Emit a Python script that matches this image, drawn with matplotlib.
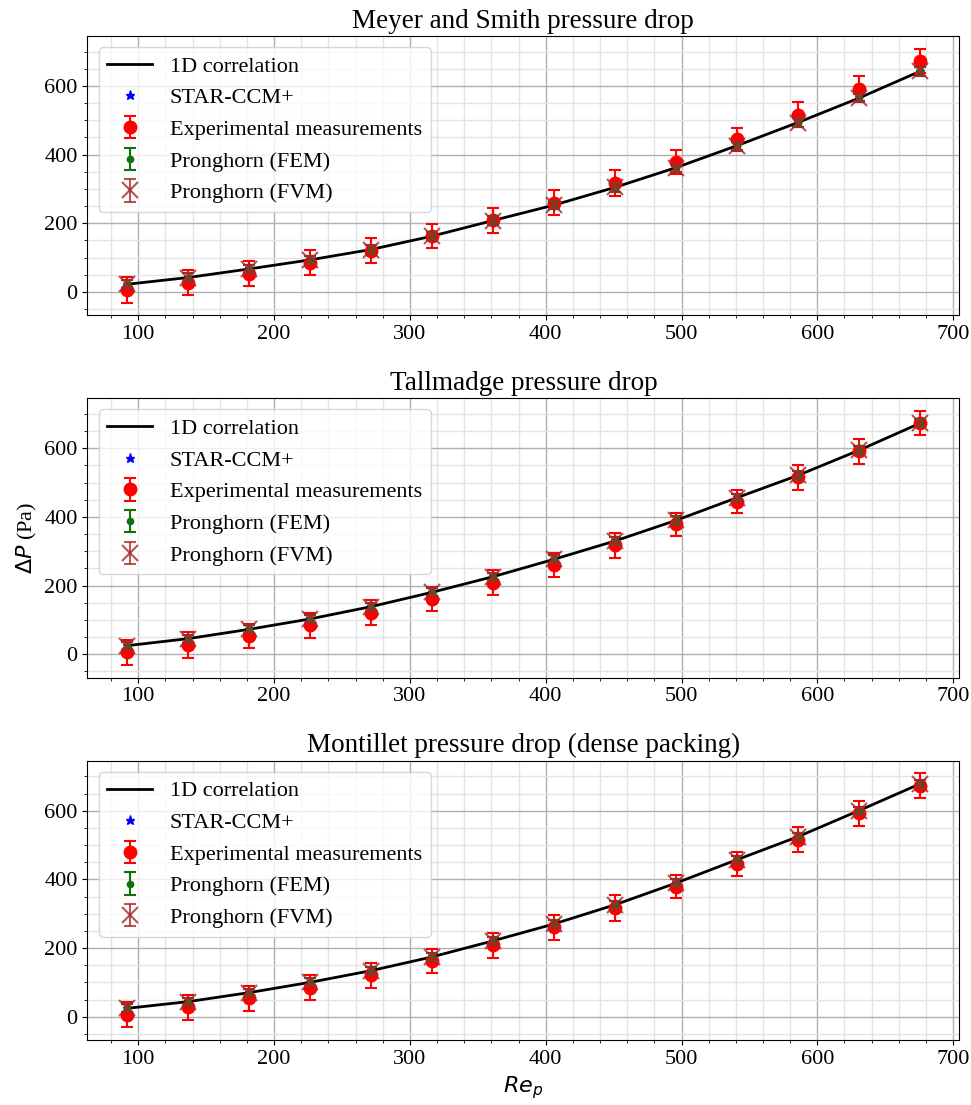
import numpy as np
import matplotlib.pyplot as plt
from matplotlib.ticker import AutoMinorLocator

plt.rcParams['font.family'] = ['Liberation Serif', 'DejaVu Sans']
plt.rcParams['mathtext.fontset'] = 'dejavusans'

# particle Reynolds numbers of the test points
re_p = [91.7, 136.6, 181.5, 226.4, 271.3, 316.2, 361.1,
        406.0, 450.9, 495.8, 540.7, 585.6, 630.5, 675.4]

# experimental pressure drop (Pa) and its uncertainty
exp_dp = [6, 27, 53.5, 84.6, 120.7, 162, 208.5, 260, 317, 379, 445, 516, 592, 673]
exp_err = [37, 37, 36, 36.5, 36.5, 35, 36.5, 36, 37, 34, 34, 36.5, 36.5, 35.5]

# 1D correlation / simulations, one list per correlation
corr_meyer = [22.4, 42, 67, 93.4, 123.6, 162.5, 208, 253, 304.6, 362, 426, 493.4, 564.5, 642.3]
corr_tallmadge = [25.2, 45.6, 72.8, 103, 138.8, 180.6, 226, 276.7, 330, 390, 456, 521, 594, 672.8]
corr_montillet = [24.3, 43.8, 70, 100, 134, 174, 220.8, 270, 325.8, 389, 457, 524, 600, 677.8]

star_offset = [2, 2, 2, 2, 2, 2, 2, 2, 2, 2, 2, 2, 2, 2]
sim_err = [12, 12, 12, 12, 12, 12, 12, 12, 12, 12, 12, 12, 12, 12]

titles = ['Meyer and Smith pressure drop',
          'Tallmadge pressure drop',
          'Montillet pressure drop (dense packing)']
correlations = [corr_meyer, corr_tallmadge, corr_montillet]

fig, axes = plt.subplots(3, 1, figsize=(9.71, 11.05), dpi=100)
fig.subplots_adjust(left=0.09, right=0.988, top=0.9674, bottom=0.0588, hspace=0.2975)

for ax, title, corr in zip(axes, titles, correlations):
    corr = np.array(corr)
    star = corr + np.array(star_offset)
    ax.plot(re_p, corr, 'k-', lw=2, label='1D correlation', zorder=3)
    ax.plot(re_p, star, 'b*', ms=6.5, label='STAR-CCM+', zorder=2)
    ax.errorbar(re_p, exp_dp, yerr=exp_err, fmt='o', color='red', ms=9,
                capsize=4, elinewidth=1.5, capthick=1.5,
                label='Experimental measurements', zorder=4)
    ax.errorbar(re_p, corr, yerr=sim_err, fmt='o', color='#107010', ms=4.5,
                capsize=4, elinewidth=1.5, capthick=1.5,
                label='Pronghorn (FEM)', zorder=5)
    ax.errorbar(re_p, corr, yerr=sim_err, fmt='x', color='brown', ms=11, alpha=0.8,
                capsize=4, elinewidth=1.5, capthick=1.5, mew=1.5,
                label='Pronghorn (FVM)', zorder=6)

    ax.set_title(title, fontsize=19.5)
    ax.set_xticks([100, 200, 300, 400, 500, 600, 700])
    ax.set_yticks([0, 200, 400, 600])
    ax.xaxis.set_minor_locator(AutoMinorLocator(5))
    ax.yaxis.set_minor_locator(AutoMinorLocator(4))
    ax.grid(which='major', color='#b0b0b0', lw=1)
    ax.grid(which='minor', color='#e4e4e4', lw=1)
    ax.set_axisbelow(True)
    ax.tick_params(labelsize=16)
    ax.legend(loc='upper left', fontsize=16)

axes[1].set_ylabel(r'$\Delta P$ (Pa)', fontsize=16)
axes[2].set_xlabel(r'$Re_p$', fontsize=16)

fig.savefig('out.png', dpi=100)
